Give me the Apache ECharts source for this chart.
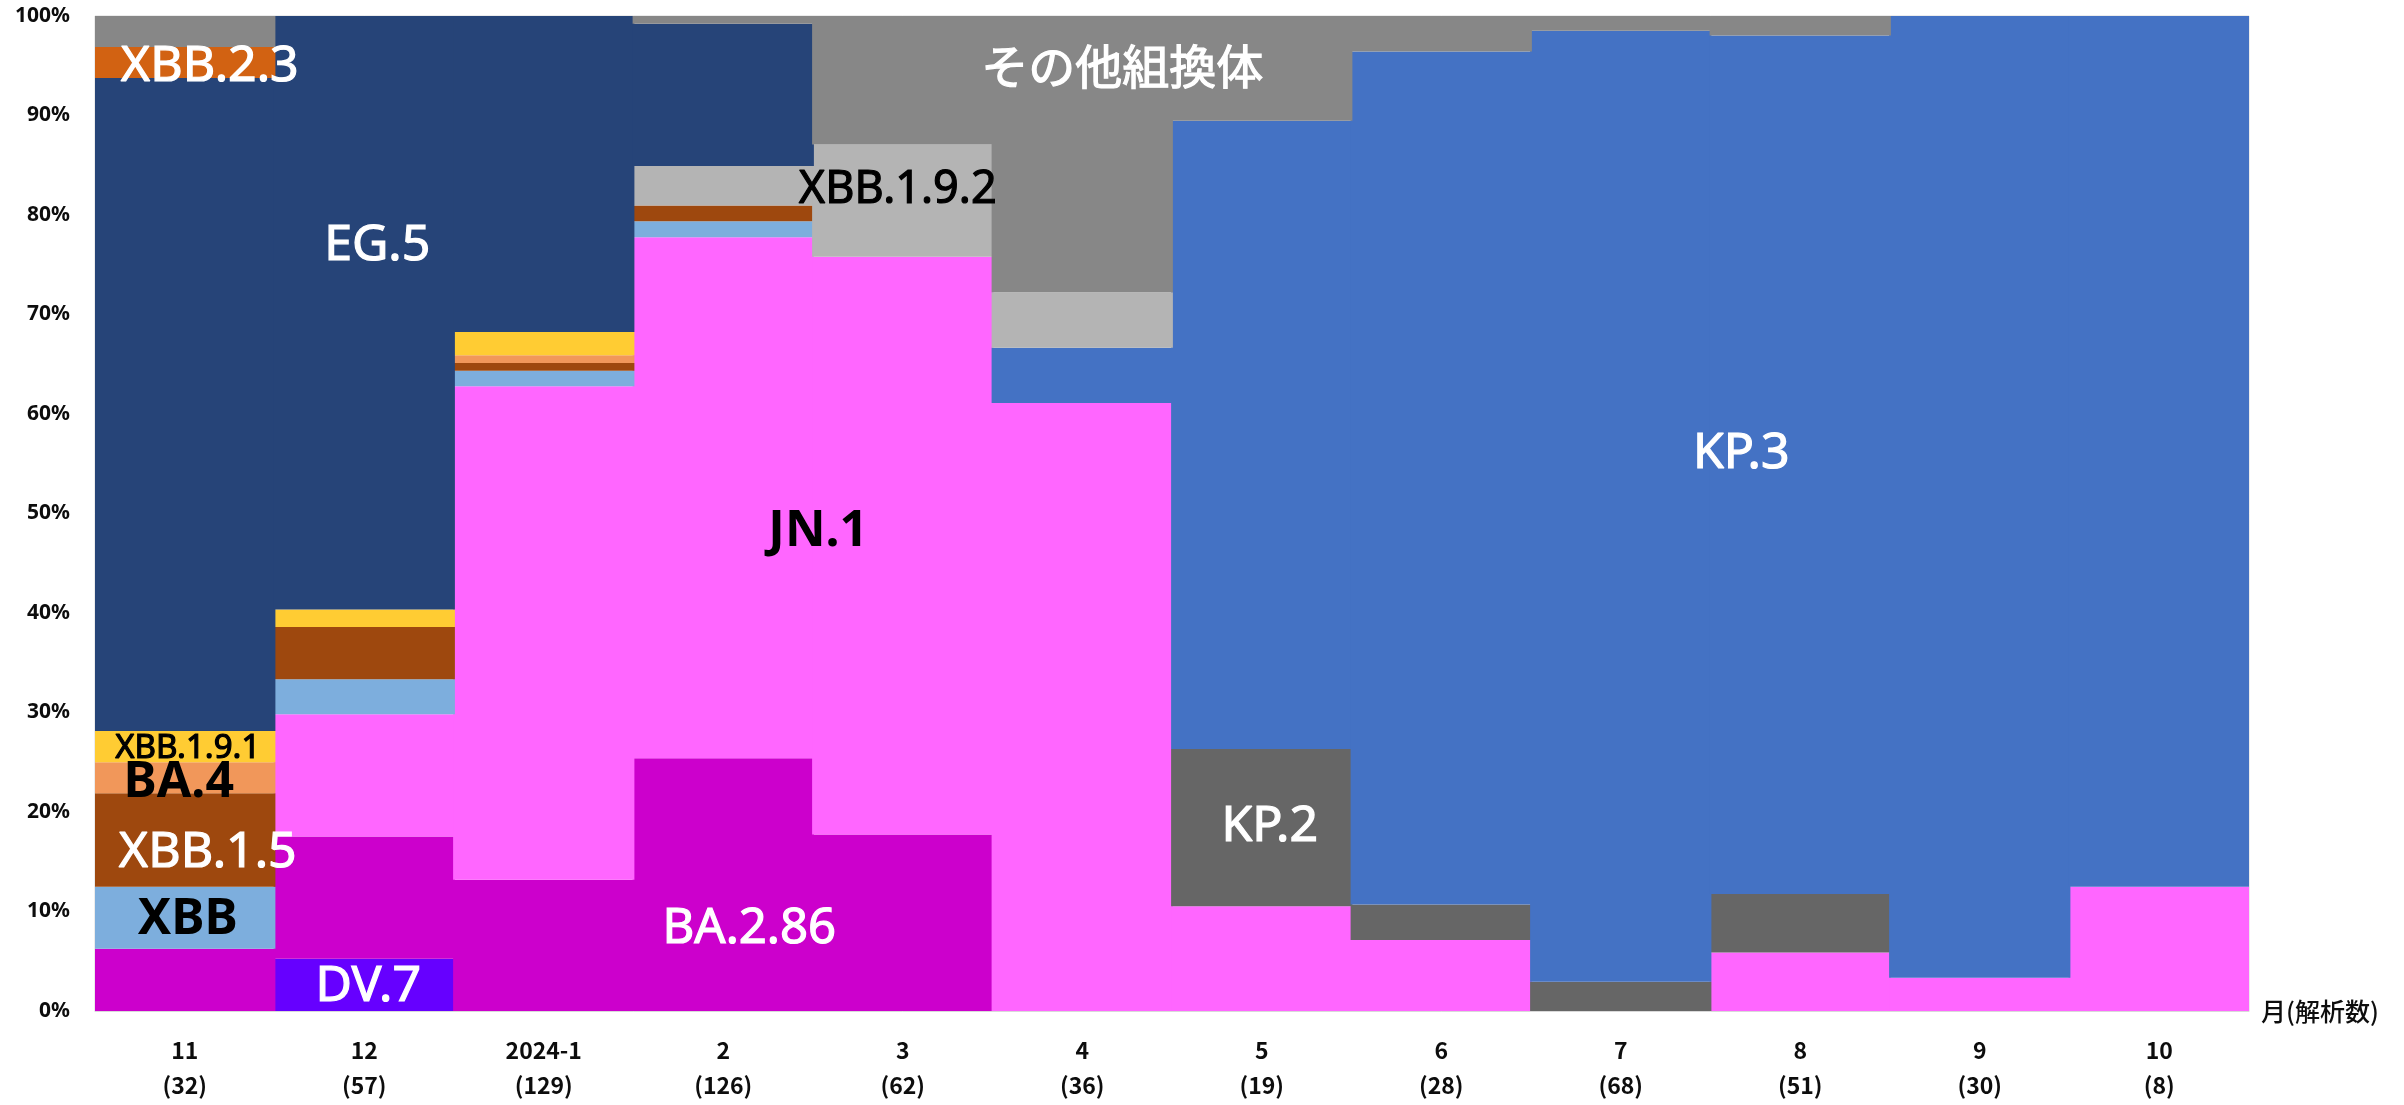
<!DOCTYPE html>
<html lang="ja">
<head>
    <meta charset="UTF-8">
    <title>変異株の割合</title>
    <script src="https://cdn.jsdelivr.net/npm/echarts@6/dist/echarts.min.js"></script>
    <style>
        html, body { margin: 0; padding: 0; background: #fff; }
        #chart { width: 2404px; height: 1105px; }
    </style>
</head>
<body>
    <div id="chart"></div>
    <script>
        // 月と解析数
        const months = ['11', '12', '2024-1', '2', '3', '4', '5', '6', '7', '8', '9', '10'];
        const counts = [32, 57, 129, 126, 62, 36, 19, 28, 68, 51, 30, 8];

        // 系統ごとの割合(%)  下から積み上げ順
        const dv7    = [0, 5.26, 0, 0, 0, 0, 0, 0, 0, 0, 0, 0];
        const ba286  = [6.25, 12.28, 13.18, 25.39, 17.74, 0, 0, 0, 0, 0, 0, 0];
        const jn1    = [0, 12.28, 49.61, 52.38, 58.06, 61.11, 10.53, 7.14, 0, 5.88, 3.33, 12.5];
        const kp2    = [0, 0, 0, 0, 0, 0, 15.79, 3.57, 2.94, 5.88, 0, 0];
        const kp3    = [0, 0, 0, 0, 0, 5.56, 63.15, 85.71, 95.59, 86.27, 96.67, 87.5];
        const xbb    = [6.25, 3.51, 1.55, 1.59, 0, 0, 0, 0, 0, 0, 0, 0];
        const xbb15  = [9.38, 5.26, 0.78, 1.59, 0, 0, 0, 0, 0, 0, 0, 0];
        const ba4    = [3.13, 0, 0.78, 0, 0, 0, 0, 0, 0, 0, 0, 0];
        const xbb191 = [3.13, 1.75, 2.33, 0, 0, 0, 0, 0, 0, 0, 0, 0];
        const xbb192 = [0, 0, 0, 3.97, 11.29, 5.56, 0, 0, 0, 0, 0, 0];
        const eg5    = [65.62, 59.65, 31.77, 14.29, 0, 0, 0, 0, 0, 0, 0, 0];
        const xbb23  = [3.12, 0, 0, 0, 0, 0, 0, 0, 0, 0, 0, 0];
        const others = [3.12, 0, 0, 0.79, 12.90, 27.77, 10.53, 3.57, 1.47, 1.96, 0, 0];

        const yTicks = [0, 10, 20, 30, 40, 50, 60, 70, 80, 90, 100];

        const layers = [
            { name: 'DV.7', data: dv7, color: '#6600FF' },
            { name: 'BA.2.86', data: ba286, color: '#CC00CC' },
            { name: 'JN.1', data: jn1, color: '#FF66FF' },
            { name: 'KP.2', data: kp2, color: '#666666' },
            { name: 'KP.3', data: kp3, color: '#4472C4' },
            { name: 'XBB', data: xbb, color: '#7DAEDD' },
            { name: 'XBB.1.5', data: xbb15, color: '#9E480E' },
            { name: 'BA.4', data: ba4, color: '#F1975A' },
            { name: 'XBB.1.9.1', data: xbb191, color: '#FFCC33' },
            { name: 'XBB.1.9.2', data: xbb192, color: '#B4B4B4' },
            { name: 'EG.5', data: eg5, color: '#264478' },
            { name: 'XBB.2.3', data: xbb23, color: '#D26212' },
            { name: 'その他組換体', data: others, color: '#878787' }
        ];

        // 図中の系統名ラベル (カテゴリ番号・値・横方向のずらし)
        const notes = [
            { text: 'XBB.2.3', cat: 0, val: 94.9, dx: 25, color: '#fff', size: 50 },
            { text: 'EG.5', cat: 1, val: 76.9, dx: 13, color: '#fff', size: 50 },
            { text: 'XBB.1.9.1', cat: 0, val: 26.4, dx: 3, color: '#000', size: 33 },
            { text: 'BA.4', cat: 0, val: 22.9, dx: -6, color: '#000', size: 50, bold: true },
            { text: 'XBB.1.5', cat: 0, val: 15.9, dx: 23, color: '#fff', size: 50 },
            { text: 'XBB', cat: 0, val: 9.2, dx: 3, color: '#000', size: 50, bold: true },
            { text: 'DV.7', cat: 1, val: 2.4, dx: 4, color: '#fff', size: 50 },
            { text: 'BA.2.86', cat: 3, val: 8.25, dx: 26, color: '#fff', size: 49 },
            { text: 'JN.1', cat: 3, val: 48.2, dx: 95, color: '#000', size: 50, bold: true },
            { text: 'XBB.1.9.2', cat: 4, val: 82.5, dx: -5, color: '#000', size: 45 },
            { text: 'その他組換体', cat: 5, val: 94.5, dx: 40, color: '#fff', size: 47 },
            { text: 'KP.2', cat: 6, val: 18.5, dx: 8, color: '#fff', size: 50 },
            { text: 'KP.3', cat: 9, val: 56.0, dx: -59, color: '#fff', size: 50 }
        ];

        const labelFont = '"Noto Sans", "Noto Sans CJK JP", sans-serif';

        const chart = echarts.init(document.getElementById('chart'));

        const option = {
            animation: false,
            backgroundColor: '#fff',
            grid: {
                left: 95, right: 155, top: 16, bottom: 94,
                show: true, borderColor: '#D9D9D9', borderWidth: 1
            },
            xAxis: {
                type: 'category',
                data: months.map((m, i) => m + '\n(' + counts[i] + ')'),
                axisLine: { lineStyle: { color: '#D9D9D9', width: 1 } },
                axisTick: { show: false },
                splitLine: { show: false },
                splitArea: { show: false },
                axisLabel: {
                    margin: 22,
                    color: '#0D0D0D',
                    fontSize: 23,
                    fontWeight: 'bold',
                    lineHeight: 35,
                    fontFamily: '"Noto Sans CJK JP", sans-serif'
                },
                name: '月(解析数)',
                nameLocation: 'end',
                nameGap: 12,
                nameTextStyle: {
                    color: '#0D0D0D',
                    fontSize: 25,
                    fontWeight: 500,
                    fontFamily: '"Noto Sans CJK JP", sans-serif',
                    verticalAlign: 'middle',
                    padding: [0, 0, 10, 0]
                }
            },
            yAxis: {
                type: 'value',
                min: yTicks[0],
                max: yTicks[yTicks.length - 1],
                interval: 10,
                axisLine: { show: false },
                axisTick: { show: false },
                splitLine: { show: false },
                axisLabel: {
                    margin: 25,
                    color: '#0D0D0D',
                    fontSize: 21,
                    fontWeight: 'bold',
                    fontFamily: '"Noto Sans", sans-serif',
                    formatter: '{value}%'
                }
            },
            // 0 の区間は描かない。隙間が出ないよう少し重ねる
            series: layers.map(l => ({
                name: l.name,
                type: 'bar',
                stack: 'total',
                barWidth: '101%',
                data: l.data.map(v => (v === 0 ? '-' : v)),
                itemStyle: { color: l.color },
                emphasis: { disabled: true }
            }))
        };
        chart.setOption(option);

        // 系統名をデータ座標から配置
        const graphics = notes.map(n => {
            const p = chart.convertToPixel({ gridIndex: 0 }, [n.cat, n.val]);
            return {
                type: 'text',
                x: p[0] + n.dx,
                y: p[1],
                z: 100,
                style: {
                    text: n.text,
                    fill: n.color,
                    stroke: n.bold ? null : n.color,
                    lineWidth: n.bold ? 0 : 1.2,
                    font: (n.bold ? 'bold ' : '') + n.size + 'px ' + labelFont,
                    textAlign: 'center',
                    textVerticalAlign: 'middle'
                }
            };
        });
        chart.setOption({ graphic: graphics });
    </script>
</body>
</html>
